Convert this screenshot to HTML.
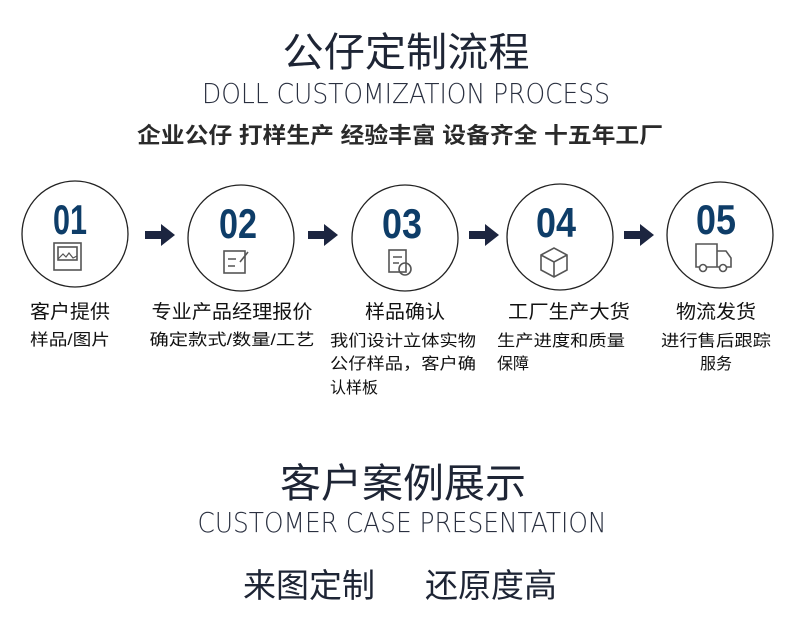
<!DOCTYPE html>
<html><head><meta charset="utf-8"><style>
html,body{margin:0;padding:0;background:#fff;}
svg{display:block;}
.cj{font-family:"Liberation Sans","Noto Sans CJK SC",sans-serif;}
</style></head><body>
<svg width="800" height="635" viewBox="0 0 800 635" xmlns="http://www.w3.org/2000/svg">
<g class="cj" fill="#1e2535">
<text x="406" y="66" font-size="40" font-weight="400" text-anchor="middle" textLength="247" lengthAdjust="spacingAndGlyphs">公仔定制流程</text>
<text x="406" y="103" font-size="28" font-weight="300" text-anchor="middle" textLength="408" lengthAdjust="spacingAndGlyphs" font-family="DejaVu Sans, Liberation Sans, sans-serif" fill="#2a3040">DOLL CUSTOMIZATION PROCESS</text>
<text x="400" y="143" font-size="22" font-weight="700" text-anchor="middle" textLength="526" lengthAdjust="spacingAndGlyphs" fill="#2a2a2a">企业公仔 打样生产 经验丰富 设备齐全 十五年工厂</text>

<text x="403" y="497" font-size="40" font-weight="400" text-anchor="middle" textLength="246" lengthAdjust="spacingAndGlyphs">客户案例展示</text>
<text x="402" y="532" font-size="28" font-weight="300" text-anchor="middle" textLength="409" lengthAdjust="spacingAndGlyphs" font-family="DejaVu Sans, Liberation Sans, sans-serif" fill="#2a3040">CUSTOMER CASE PRESENTATION</text>
<text x="243" y="597" font-size="33" textLength="132" lengthAdjust="spacingAndGlyphs">来图定制</text>
<text x="425" y="597" font-size="33" textLength="132" lengthAdjust="spacingAndGlyphs">还原度高</text>
</g>

<g fill="none" stroke="#222" stroke-width="1.3">
<circle cx="75" cy="234" r="53"/>
<circle cx="241" cy="238" r="53"/>
<circle cx="405" cy="238" r="53"/>
<circle cx="560" cy="237" r="53"/>
<circle cx="720" cy="235" r="53"/>
</g>
<g font-family="Liberation Sans Narrow, Liberation Sans, sans-serif" font-weight="700" fill="#0e3d68" font-size="42" text-anchor="middle">
<text x="70" y="234" textLength="34" lengthAdjust="spacingAndGlyphs">01</text>
<text x="238" y="238" textLength="38" lengthAdjust="spacingAndGlyphs">02</text>
<text x="402" y="238" textLength="40" lengthAdjust="spacingAndGlyphs">03</text>
<text x="556" y="237" textLength="40" lengthAdjust="spacingAndGlyphs">04</text>
<text x="716" y="234" textLength="40" lengthAdjust="spacingAndGlyphs">05</text>
</g>
<g fill="#1c2540">
<path d="M145,231 h16 v-7 l14,11 l-14,11 v-7 h-16 z"/>
<path d="M308,231 h16 v-7 l14,11 l-14,11 v-7 h-16 z"/>
<path d="M469,231 h16 v-7 l14,11 l-14,11 v-7 h-16 z"/>
<path d="M624,231 h16 v-7 l14,11 l-14,11 v-7 h-16 z"/>
</g>
<g fill="none" stroke="#555" stroke-width="1.6">
<rect x="54" y="243" width="27" height="27"/>
<rect x="58" y="247" width="19" height="13"/>
<path d="M58,259 l5,-5 3,3 3,-4 4,5 4,-2" stroke-width="1.2"/>
<rect x="224" y="251" width="21" height="22"/>
<path d="M228,259 h8 M228,266 h7 M240,262 l8,-10" />
<rect x="389" y="250" width="17" height="22"/>
<path d="M393,257 h9 M393,263 h6"/>
<circle cx="405" cy="269" r="6"/>
<path d="M541,255 l13,-7 13,7 v15 l-13,7 -13,-7z M541,255 l13,7 13,-7 M554,262 v15"/>
<path d="M696,244 h21 v23 h-21z M717,251 h9 l5,7 v9 h-14"/>
<circle cx="703" cy="268" r="3.5" fill="#fff"/>
<circle cx="723" cy="268" r="3.5" fill="#fff"/>
</g>
<g class="cj" fill="#111">
<text x="70" y="318" font-size="19" text-anchor="middle" textLength="80" lengthAdjust="spacingAndGlyphs">客户提供</text>
<text x="70" y="345" font-size="16" text-anchor="middle" textLength="80" lengthAdjust="spacingAndGlyphs">样品/图片</text>
<text x="232" y="318" font-size="19" text-anchor="middle" textLength="161" lengthAdjust="spacingAndGlyphs">专业产品经理报价</text>
<text x="232" y="345" font-size="16" text-anchor="middle" textLength="165" lengthAdjust="spacingAndGlyphs">确定款式/数量/工艺</text>
<text x="405" y="318" font-size="19" text-anchor="middle" textLength="80" lengthAdjust="spacingAndGlyphs">样品确认</text>
<text x="330" y="346" font-size="16" textLength="146" lengthAdjust="spacingAndGlyphs">我们设计立体实物</text>
<text x="330" y="369" font-size="16" textLength="146" lengthAdjust="spacingAndGlyphs">公仔样品，客户确</text>
<text x="330" y="393" font-size="16">认样板</text>
<text x="569" y="318" font-size="19" text-anchor="middle" textLength="122" lengthAdjust="spacingAndGlyphs">工厂生产大货</text>
<text x="497" y="346" font-size="16" textLength="128" lengthAdjust="spacingAndGlyphs">生产进度和质量</text>
<text x="497" y="369" font-size="16">保障</text>
<text x="716" y="318" font-size="19" text-anchor="middle" textLength="80" lengthAdjust="spacingAndGlyphs">物流发货</text>
<text x="716" y="346" font-size="16" text-anchor="middle" textLength="110" lengthAdjust="spacingAndGlyphs">进行售后跟踪</text>
<text x="716" y="369" font-size="16" text-anchor="middle">服务</text>
</g>
</svg>
</body></html>
